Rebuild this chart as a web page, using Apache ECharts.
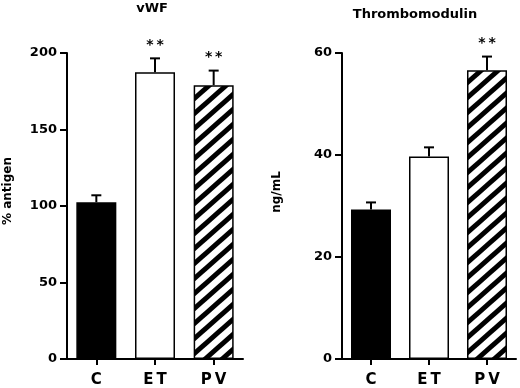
<!DOCTYPE html>
<html>
<head>
<meta charset="utf-8">
<script src="https://cdn.jsdelivr.net/npm/echarts@6/dist/echarts.min.js"></script>
<style>
  html, body { margin: 0; padding: 0; background: #fff; }
  #chart { width: 520px; height: 388px; }
</style>
</head>
<body>
<div id="chart"></div>
<script>
// groups and values
var groups = ['C', 'ET', 'PV'];
var vwfMean = [102.5, 187.5, 179];
var vwfSem = [4.5, 9, 9.5];
var vwfSig = ['', '**', '**'];
var tmMean = [29.3, 39.7, 56.6];
var tmSem = [1.4, 1.8, 2.7];
var tmSig = ['', '', '**'];
var vwfTicks = { max: 200, interval: 50 };
var tmTicks = { max: 60, interval: 20 };

var dom = document.getElementById('chart');
var myChart = echarts.init(dom);
var font = 'DejaVu Sans';

// diagonal stripes for the PV bar (tile runs corner to corner so it repeats cleanly)
var tw = 17, th = 15;
var hatch = document.createElement('canvas');
hatch.width = tw;
hatch.height = th;
var ctx = hatch.getContext('2d');
ctx.fillStyle = '#fff';
ctx.fillRect(0, 0, tw, th);
ctx.strokeStyle = '#000';
ctx.lineWidth = 5;
[-tw, 0, tw].forEach(function (o) {
    ctx.beginPath();
    ctx.moveTo(o - tw, th * 2);
    ctx.lineTo(o + tw * 2, -th);
    ctx.stroke();
});

var fills = ['#000', '#fff', { image: hatch, repeat: 'repeat' }];

function barData(means) {
    return means.map(function (v, i) {
        return { value: v, itemStyle: { color: fills[i] } };
    });
}

function errData(means, sems) {
    return means.map(function (v, i) {
        return [i, v, sems[i]];
    });
}

function makeErr(sig) {
    return function (params, api) {
        var i = api.value(0);
        var m = api.value(1);
        var s = api.value(2);
        var star = sig[params.dataIndex];
        var p0 = api.coord([i, m]);
        var p1 = api.coord([i, m + s]);
        var kids = [
            { type: 'line', shape: { x1: p0[0], y1: p0[1], x2: p1[0], y2: p1[1] }, style: { stroke: '#000', lineWidth: 2 } },
            { type: 'line', shape: { x1: p1[0] - 5, y1: p1[1], x2: p1[0] + 5, y2: p1[1] }, style: { stroke: '#000', lineWidth: 2 } }
        ];
        if (star) {
            kids.push({
                type: 'text',
                style: {
                    text: star.split('').join('\u2009'), x: p1[0], y: p1[1] - 13,
                    align: 'center', verticalAlign: 'middle',
                    fill: '#000', font: 'bold 14px "' + font + '"'
                }
            });
        }
        return { type: 'group', children: kids };
    };
}

function yAxis(idx, t, name, gap, pad) {
    return {
        type: 'value', gridIndex: idx, min: 0, max: t.max, interval: t.interval,
        name: name, nameLocation: 'middle', nameGap: gap, nameRotate: 90,
        nameTextStyle: { color: '#000', fontFamily: font, fontWeight: 'bold', fontSize: 12, padding: pad },
        axisLine: { show: true, lineStyle: { color: '#000', width: 2 } },
        axisTick: { show: true, length: 7, lineStyle: { color: '#000', width: 2 } },
        axisLabel: { color: '#000', fontFamily: font, fontWeight: 'bold', fontSize: 13, margin: 10 },
        splitLine: { show: false }
    };
}

function xAxis(idx) {
    return {
        type: 'category', gridIndex: idx, data: groups,
        axisLine: { lineStyle: { color: '#000', width: 2 } },
        axisTick: { show: true, alignWithLabel: true, length: 6, lineStyle: { color: '#000', width: 2 } },
        axisLabel: {
            color: '#000', fontFamily: font, fontWeight: 'bold', fontSize: 15, margin: 14,
            formatter: function (v) { return v.split('').join('\u2009'); }
        }
    };
}

var barStyle = { borderColor: '#000', borderWidth: 1.5 };

var option = {
    animation: false,
    title: [
        { text: 'vWF', left: 152, top: 2, padding: 0, textAlign: 'center',
          textStyle: { color: '#000', fontFamily: font, fontWeight: 'bold', fontSize: 13 } },
        { text: 'Thrombomodulin', left: 415, top: 8, padding: 0, textAlign: 'center',
          textStyle: { color: '#000', fontFamily: font, fontWeight: 'bold', fontSize: 13 } }
    ],
    grid: [
        { left: 67, top: 53, width: 176, bottom: 29 },
        { left: 342, top: 53, width: 174, bottom: 29 }
    ],
    xAxis: [xAxis(0), xAxis(1)],
    yAxis: [
        yAxis(0, vwfTicks, '% antigen', 53, [0, 0, 0, 30]),
        yAxis(1, tmTicks, 'ng/mL', 59, [0, 0, 0, 28])
    ],
    series: [
        { name: 'vWF', type: 'bar', xAxisIndex: 0, yAxisIndex: 0, barWidth: 40,
          itemStyle: barStyle, data: barData(vwfMean) },
        { name: 'Thrombomodulin', type: 'bar', xAxisIndex: 1, yAxisIndex: 1, barWidth: 40,
          itemStyle: barStyle, data: barData(tmMean) },
        { type: 'custom', xAxisIndex: 0, yAxisIndex: 0, z: 5,
          renderItem: makeErr(vwfSig), data: errData(vwfMean, vwfSem) },
        { type: 'custom', xAxisIndex: 1, yAxisIndex: 1, z: 5,
          renderItem: makeErr(tmSig), data: errData(tmMean, tmSem) }
    ]
};

if (option && typeof option === 'object') {
    myChart.setOption(option);
}
</script>
</body>
</html>
